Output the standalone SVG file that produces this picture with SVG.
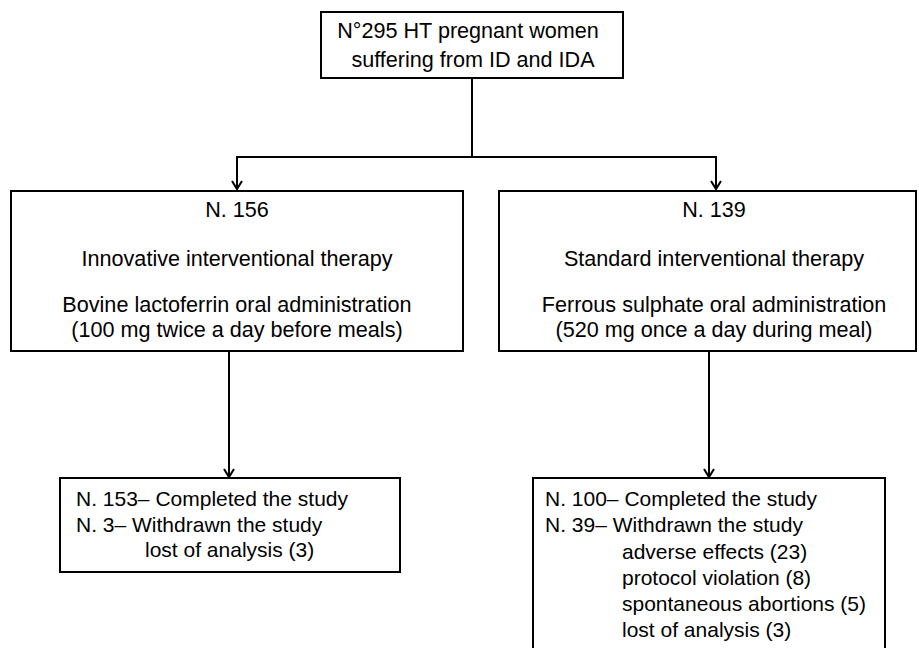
<svg xmlns="http://www.w3.org/2000/svg" width="919" height="648" viewBox="0 0 919 648">
<style>
.box{fill:#fff;stroke:#000;stroke-width:2}
.ln{fill:none;stroke:#000;stroke-width:2}
.ah{fill:none;stroke:#000;stroke-width:2}
text{font-family:"Liberation Sans",Arial,sans-serif;font-size:21px;fill:#000}
.c{text-anchor:middle;font-size:21.6px}
</style>
<rect width="919" height="648" fill="#fff"/>
<g id="connectors">
<polyline class="ln" points="472,78 472,157"/>
<polyline class="ln" points="237,189 237,157 716,157 716,189"/>
<polyline class="ah" points="232,181 237,189 242,181"/>
<polyline class="ah" points="711,181 716,189 721,181"/>
<line class="ln" x1="229" y1="351" x2="229" y2="477"/>
<polyline class="ah" points="224,469 229,477 234,469"/>
<line class="ln" x1="709" y1="351" x2="709" y2="477"/>
<polyline class="ah" points="704,469 709,477 714,469"/>
</g>
<g id="top">
<rect class="box" x="321" y="12" width="302" height="66"/>
<text class="c" x="468" y="38">N°295 HT pregnant women</text>
<text class="c" x="473" y="67">suffering from ID and IDA</text>
</g>
<g id="left">
<rect class="box" x="11" y="191" width="452" height="160"/>
<text class="c" x="237" y="217">N. 156</text>
<text class="c" x="237" y="266">Innovative interventional therapy</text>
<text class="c" x="237" y="312">Bovine lactoferrin oral administration</text>
<text class="c" x="237" y="337">(100 mg twice a day before meals)</text>
</g>
<g id="right">
<rect class="box" x="499" y="191" width="417" height="160"/>
<text class="c" x="714" y="217">N. 139</text>
<text class="c" x="714" y="266">Standard interventional therapy</text>
<text class="c" x="714" y="312">Ferrous sulphate oral administration</text>
<text class="c" x="714" y="337">(520 mg once a day during meal)</text>
</g>
<g id="left-outcome">
<rect class="box" x="60" y="478" width="340" height="94"/>
<text x="76" y="506">N. 153– Completed the study</text>
<text x="76" y="532">N. 3– Withdrawn the study</text>
<text x="145" y="557">lost of analysis (3)</text>
</g>
<g id="right-outcome">
<rect class="box" x="533" y="478" width="352" height="190"/>
<text x="545" y="506">N. 100– Completed the study</text>
<text x="545" y="532">N. 39– Withdrawn the study</text>
<text x="622" y="559">adverse effects (23)</text>
<text x="622" y="585">protocol violation (8)</text>
<text x="622" y="611">spontaneous abortions (5)</text>
<text x="622" y="637">lost of analysis (3)</text>
</g>
</svg>
